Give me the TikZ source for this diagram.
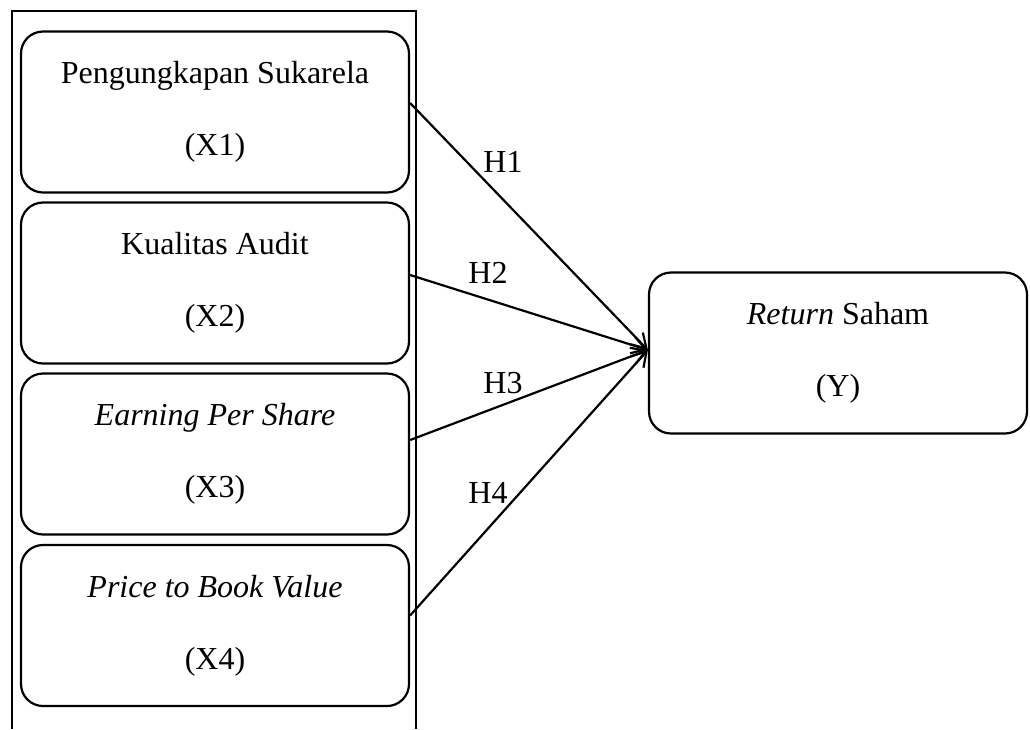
\documentclass[tikz,border=0pt]{standalone}
\usepackage{fontspec}
\setmainfont{Liberation Serif}
\usetikzlibrary{arrows.meta}
\begin{document}
\begin{tikzpicture}[x=1pt,y=-1pt,
  box/.style={draw, line width=2.2pt, rounded corners=22pt, minimum width=388pt,
    minimum height=161pt, align=center, inner sep=0pt,
    font=\fontsize{32}{72}\selectfont},
  lbl/.style={inner sep=0pt, font=\fontsize{32}{38}\selectfont},
  conn/.style={line width=2.2pt, -{Straight Barb[length=14pt,width=17pt,line width=2.2pt]}}]
\useasboundingbox (0,0) rectangle (1030,729);
\draw[line width=2pt] (12,729) -- (12,11) -- (416,11) -- (416,729);
\node[box] (x1) at (215,112) {Pengungkapan Sukarela\\(X1)};
\node[box] (x2) at (215,283) {Kualitas Audit\\(X2)};
\node[box] (x3) at (215,454) {\textit{Earning Per Share}\\(X3)};
\node[box] (x4) at (215,625.5) {\textit{Price to Book Value}\\(X4)};
\node[box, minimum width=378pt] (y) at (838,353) {\textit{Return} Saham\\(Y)};
\draw[conn] ([yshift=9pt]x1.east) -- ([yshift=3pt]y.west);
\draw[conn] ([yshift=8pt]x2.east) -- ([yshift=3pt]y.west);
\draw[conn] ([yshift=14pt]x3.east) -- ([yshift=3pt]y.west);
\draw[conn] ([yshift=10pt]x4.east) -- ([yshift=3pt]y.west);
\node[lbl] (h1) at (503,162) {H1};
\node[lbl] (h2) at (488,273) {H2};
\node[lbl] (h3) at (503,383) {H3};
\node[lbl] (h4) at (488,493) {H4};
\end{tikzpicture}
\end{document}
